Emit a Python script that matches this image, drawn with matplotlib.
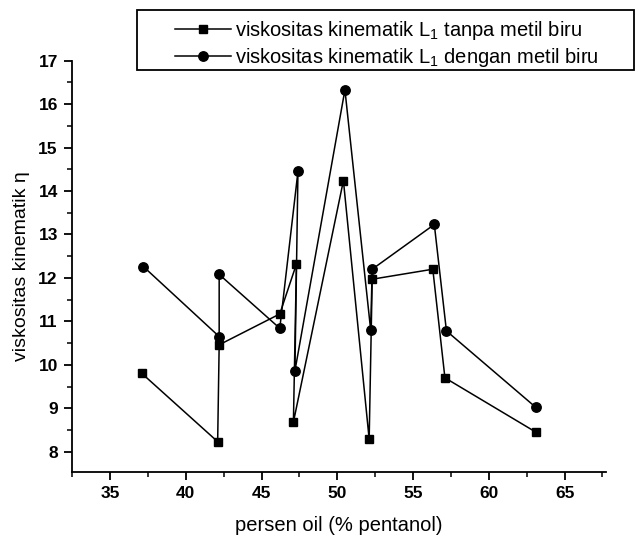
import matplotlib
matplotlib.use("Agg")
import matplotlib.pyplot as plt
from matplotlib.patches import Rectangle
from matplotlib.ticker import MultipleLocator

plt.rcParams['font.family'] = ['Liberation Sans', 'DejaVu Sans']
plt.rcParams['mathtext.default'] = 'regular'

# tanpa metil biru (squares)
x_tanpa = [37.1, 42.1, 42.2, 46.2, 47.3, 47.1, 50.4, 52.1, 52.3, 56.3, 57.1, 63.1]
y_tanpa = [9.80, 8.23, 10.46, 11.17, 12.32, 8.68, 14.24, 8.29, 11.97, 12.20, 9.70, 8.45]

# dengan metil biru (circles)
x_dengan = [37.2, 42.2, 42.2, 46.2, 47.4, 47.2, 50.5, 52.2, 52.3, 56.4, 57.2, 63.1]
y_dengan = [12.26, 10.65, 12.08, 10.84, 14.45, 9.86, 16.33, 10.80, 12.20, 13.23, 10.78, 9.02]

label_tanpa = 'viskositas kinematik L$_1$ tanpa metil biru'
label_dengan = 'viskositas kinematik L$_1$ dengan metil biru'

W, H = 635, 542
fig = plt.figure(figsize=(W / 100, H / 100), dpi=100)
ax = fig.add_axes([0.113, 0.129, 0.842, 0.759])

ax.plot(x_tanpa, y_tanpa, color='black', lw=1.1, marker='s', ms=6.2, label=label_tanpa)
ax.plot(x_dengan, y_dengan, color='black', lw=1.1, marker='o', ms=6.8, label=label_dengan)

ax.set_xlim(32.47, 67.76)
ax.set_ylim(7.53, 17)
ax.xaxis.set_major_locator(MultipleLocator(5))
ax.xaxis.set_minor_locator(MultipleLocator(2.5))
ax.yaxis.set_major_locator(MultipleLocator(1))
ax.yaxis.set_minor_locator(MultipleLocator(0.5))

for s in ['top', 'right']:
    ax.spines[s].set_visible(False)
for s in ['left', 'bottom']:
    ax.spines[s].set_linewidth(1.3)

ax.tick_params(which='major', direction='out', length=6, width=1.3, labelsize=12.5, pad=4)
ax.tick_params(which='minor', direction='out', length=3.5, width=1.1)
for lbl in ax.get_xticklabels() + ax.get_yticklabels():
    lbl.set_fontweight('bold')

ax.set_xlabel('persen oil (% pentanol)', fontsize=14.5, labelpad=11)
ax.set_ylabel('viskositas kinematik η', fontsize=14, labelpad=6)

# legend box reaching the right edge of the figure
fig.patches.append(Rectangle((136.7 / W, 1 - 70 / H), (634 - 136.7) / W, 60 / H,
                             transform=fig.transFigure, fill=False,
                             edgecolor='black', lw=1.3))
fig.legend(loc='upper left', bbox_to_anchor=(175 / W, 1 - 19 / H), bbox_transform=fig.transFigure,
           fontsize=14.5, frameon=False, handlelength=2.8, borderaxespad=0, borderpad=0,
           labelspacing=0.2, handletextpad=0.2)

fig.savefig('out.png', dpi=100)
